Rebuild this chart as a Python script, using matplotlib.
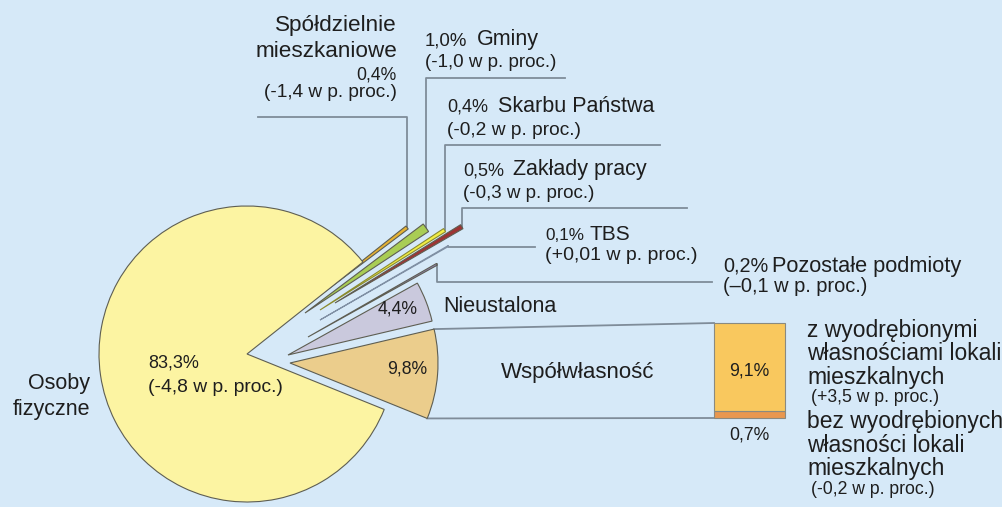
import numpy as np
import matplotlib.pyplot as plt

plt.rcParams['font.family'] = ['Liberation Sans', 'DejaVu Sans']

# udzial w mieszkaniach wg wlasciciela (%), kolejnosc wycinkow jak na rysunku
names = ['Współwłasność', 'Nieustalona', 'Pozostałe podmioty', 'TBS', 'Zakłady pracy',
         'Skarbu Państwa', 'Gminy', 'Spółdzielnie\nmieszkaniowe', 'Osoby\nfizyczne']
shares = [9.8, 4.4, 0.2, 0.1, 0.5, 0.4, 1.0, 0.4, 83.3]
changes = [None, None, '–0,1', '+0,01', '-0,3', '-0,2', '-1,0', '-1,4', '-4,8']

# rozbicie wspolwlasnosci (od dolu slupka)
co_names = ['bez wyodrębionych\nwłasności lokali\nmieszkalnych',
            'z wyodrębionymi\nwłasnościami lokali\nmieszkalnych']
co_shares = [0.7, 9.1]
co_changes = ['-0,2', '+3,5']

colors = ['#ebcd8c', '#cac9dd', '#9283b8', '#f4f8fb', '#9e3434',
          '#f2ee45', '#a9cd55', '#e6b232', '#fcf4a2']
co_colors = ['#e9974f', '#f9c85e']
bg = '#d6e9f8'
line_c = '#7f8c99'
txt_c = '#1e1e1e'


def pct(v):
    return f'{v:.1f}'.replace('.', ',') + '%'


def chg(c):
    return f'({c} w p. proc.)'


fig = plt.figure(figsize=(10.02, 5.07), dpi=100, facecolor=bg)
ax = fig.add_axes([0, 0, 1, 1])
ax.set_facecolor(bg)

cx, cy, R = 247, 354, 148
wedges, _ = ax.pie(shares, colors=colors, startangle=22, counterclock=False,
                   center=(cx, cy), radius=R,
                   wedgeprops=dict(edgecolor='#5e5e52', linewidth=0.8))

# przesuniecie wycinkow (jak na oryginalnym rysunku)
offsets = [(43, 9), (41, 1), (61, -17), (73, -34), (88, -51),
           (73, -44), (58, -41), (43, -36), (0, 0)]
for w, (dx, dy) in zip(wedges, offsets):
    w.set_center((cx + dx, cy + dy))
wedges[3].set_edgecolor('#8090a4')
wedges[5].set_edgecolor('#8a8a30')

ax.set_xlim(0, 1002)
ax.set_ylim(507, 0)
ax.axis('off')


def point(w, ang):
    a = np.deg2rad(ang)
    return w.center[0] + w.r * np.cos(a), w.center[1] + w.r * np.sin(a)


# linie odniesienia dla malych wycinkow: (indeks, poziom y, koniec x)
leaders = [(7, 117, 258), (6, 78, 565), (5, 145, 660), (4, 208, 687),
           (3, 247, 535), (2, 282, 712)]
for i, ly, lx in leaders:
    tx, ty = point(wedges[i], (wedges[i].theta1 + wedges[i].theta2) / 2)
    ax.plot([tx, tx, lx], [ty, ly, ly], color=line_c, lw=1.3, zorder=0)

# slupek ze struktura wspolwlasnosci
bar_x, bar_w, bar_base = 749.5, 71, 418
px_per_pct = 95 / 9.8
bottoms = bar_base - np.cumsum([0] + co_shares[:-1]) * px_per_pct
ax.bar([bar_x] * 2, [-s * px_per_pct for s in co_shares], bottom=bottoms,
       width=bar_w, color=co_colors, edgecolor='#8a8a80', linewidth=0.8)
bar_top = bar_base - sum(co_shares) * px_per_pct
ux, uy = point(wedges[0], wedges[0].theta1)
lx_, ly_ = point(wedges[0], wedges[0].theta2)
ax.plot([ux, bar_x - bar_w / 2], [uy, bar_top], color=line_c, lw=1.3, zorder=0)
ax.plot([lx_, bar_x - bar_w / 2], [ly_, bar_base], color=line_c, lw=1.3, zorder=0)

BIG, SMALL = 15.5, 12.7


def t(x, y, s, size=SMALL, ha='left'):
    ax.text(x, y, s, fontsize=size, ha=ha, va='baseline', color=txt_c)


# Spoldzielnie
sp1, sp2 = names[7].split('\n')
t(397, 31, sp1, 16.2, 'right')
t(397, 57, sp2, 16.2, 'right')
t(397, 80, pct(shares[7]), ha='right')
t(397, 97, chg(changes[7]), 13.7, 'right')
# Gminy
t(425, 45, pct(shares[6]), 13.4)
t(477, 45, names[6], BIG)
t(425, 67, chg(changes[6]), 13.5)
# Skarbu Panstwa
t(447, 112, pct(shares[5]), 13)
t(498, 112, names[5], BIG)
t(447, 135, chg(changes[5]), 13.8)
# Zaklady pracy
t(463, 175, pct(shares[4]), 13)
t(513, 175, names[4], BIG)
t(463, 198, chg(changes[4]), 13.5)
# TBS
t(545, 240, pct(shares[3]), 12.3)
t(590, 240, names[3], 15)
t(545, 260, chg(changes[3]), 14)
# Pozostale
t(723, 272, pct(shares[2]), 14.3)
t(772, 272, names[2], 15.7)
t(723, 292, chg(changes[2]), 14.4)
# Nieustalona, Wspolwlasnosc
t(443, 312, names[1], BIG)
t(398, 313, pct(shares[1]), ha='center')
t(427, 373, pct(shares[0]), ha='right')
t(501, 378, names[0], 16)
# Osoby fizyczne
os1, os2 = names[8].split('\n')
t(90, 389, os1, BIG, 'right')
t(90, 415, os2, BIG, 'right')
t(148, 368, pct(shares[8]), 13)
t(148, 392, chg(changes[8]), 13.9)

# opisy slupka
t(bar_x, 375, pct(co_shares[1]), ha='center')
t(bar_x, 440, pct(co_shares[0]), ha='center')
for lines, base, c in [(co_names[1], 337, co_changes[1]), (co_names[0], 428, co_changes[0])]:
    parts = lines.split('\n')
    for k, s in enumerate(parts):
        t(807, base + k * 23.5, s, 16.5)
    t(811, base + len(parts) * 23.5 - 5, chg(c))

fig.savefig('out.png', dpi=100, facecolor=bg)
